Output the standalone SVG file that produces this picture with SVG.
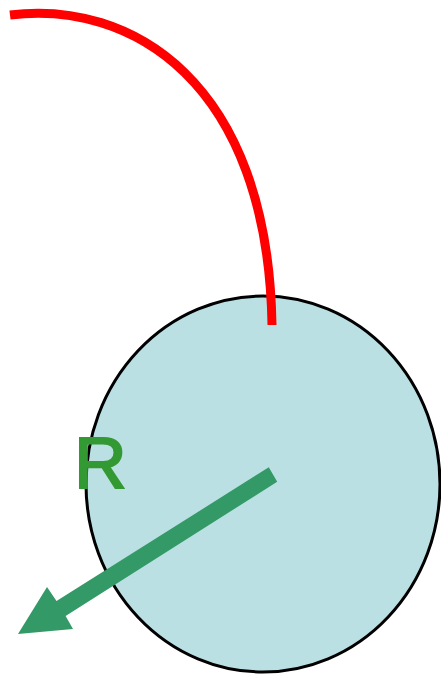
<svg xmlns="http://www.w3.org/2000/svg" width="441" height="675" viewBox="0 0 441 675">
<style>
.circ{fill:#bbe0e3;stroke:#000;stroke-width:3}
.arc{fill:none;stroke:#ff0000;stroke-width:9}
.arr{fill:#339966}
.lbl{font-family:"Liberation Sans",Arial,sans-serif;font-size:73px;fill:#339933;stroke:#339933;stroke-width:2}
</style>
<g id="circle"><ellipse class="circ" cx="263" cy="484" rx="177" ry="188"/></g>
<g id="connectors">
<path id="arc" class="arc" d="M10,15 C130,0 268,80 272,325"/>
<polygon id="radius" class="arr" points="268.8,467.3 277.2,481.7 65.6,616 73,629 18,634 47,587 56.5,601"/>
</g>
<g id="label"><text class="lbl" x="74" y="488">R</text></g>
</svg>
